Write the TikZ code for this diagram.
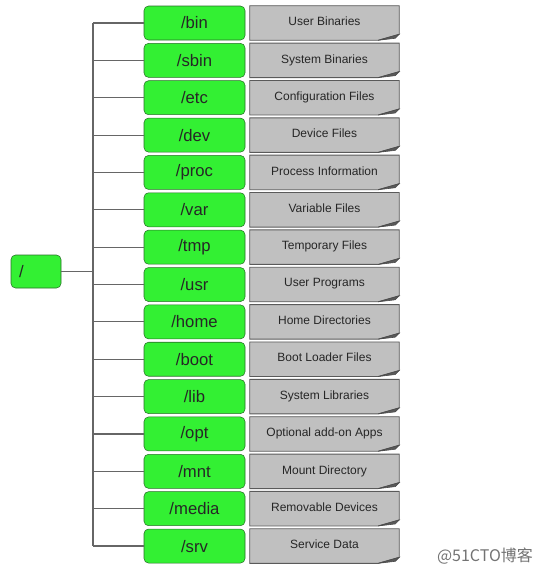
\documentclass[tikz,border=0pt]{standalone}
\usepackage{fontspec}
\setmainfont{Liberation Sans}
\newfontfamily\cjkfont{Noto Sans CJK SC}
\usetikzlibrary{backgrounds}
\definecolor{dirgreen}{RGB}{51,240,51}
\definecolor{dirborder}{RGB}{40,110,40}
\definecolor{descgray}{RGB}{192,192,192}
\definecolor{descborder}{RGB}{90,90,90}
\newcommand\pxu{0.75pt}
\tikzset{
  dirbox/.style={draw=dirborder,fill=dirgreen,rounded corners=4.5*\pxu,
    minimum width=101*\pxu,minimum height=34*\pxu,inner sep=0pt,
    font=\fontsize{12.5}{14}\selectfont,text=black!85},
  descbox/.style={minimum width=149*\pxu,minimum height=34*\pxu,inner sep=0pt,
    font=\fontsize{9}{11}\selectfont,text=black!85},
  tree/.style={draw=black!60,line width=1.1*\pxu}
}
\begin{document}
\begin{tikzpicture}[x=0.75pt,y=-0.75pt]
  % Canvas
  \useasboundingbox (0,0) rectangle (544,576);

  % Root directory
  \node[dirbox,text width=25.5pt,inner xsep=6pt,align=left,minimum width=37.5pt,
    minimum height=33*\pxu] (root) at (36,271.5) {/};
  \coordinate (trunk) at (93,271.5);
  \draw[tree] (root.east) -- (trunk);

  % Directories and their descriptions
  \foreach \dir/\desc [count=\i] in {bin/User Binaries,sbin/System Binaries,
      etc/Configuration Files,dev/Device Files,proc/Process Information,
      var/Variable Files,tmp/Temporary Files,usr/User Programs,
      home/Home Directories,boot/Boot Loader Files,lib/System Libraries,
      opt/Optional add-on Apps,mnt/Mount Directory,media/Removable Devices,
      srv/Service Data}{
    \pgfmathsetmacro\yrow{23+(\i-1)*37.36}
    \node[dirbox] (d\i) at (194.5,\yrow) {/\dir};
    \node[descbox] (g\i) at (324.5,\yrow) {\raisebox{2.5pt}{\desc}};
    % dog-eared note behind the text
    \begin{pgfonlayer}{background}
      \filldraw[fill=descgray,draw=descborder,line width=0.9*\pxu]
        (g\i.north west) -- (g\i.north east) -- ([yshift=6*\pxu]g\i.south east)
        -- ([xshift=-21*\pxu]g\i.south east) -- (g\i.south west) -- cycle;
      \filldraw[fill=black!65,draw=black!70,line width=0.6*\pxu]
        ([xshift=-21*\pxu]g\i.south east) -- ([yshift=6*\pxu]g\i.south east)
        -- ([xshift=-4*\pxu,yshift=2*\pxu]g\i.south east) -- cycle;
    \end{pgfonlayer}
    \draw[tree] (d\i.west -| trunk) -- (d\i.west);
  }
  % Trunk
  \draw[tree] (d1.west -| trunk) -- (d15.west -| trunk);

  % Watermark
  \node[text=black!55,font=\cjkfont\fontsize{12}{14}\selectfont] (mark) at (485,556) {@51CTO博客};
\end{tikzpicture}
\end{document}
